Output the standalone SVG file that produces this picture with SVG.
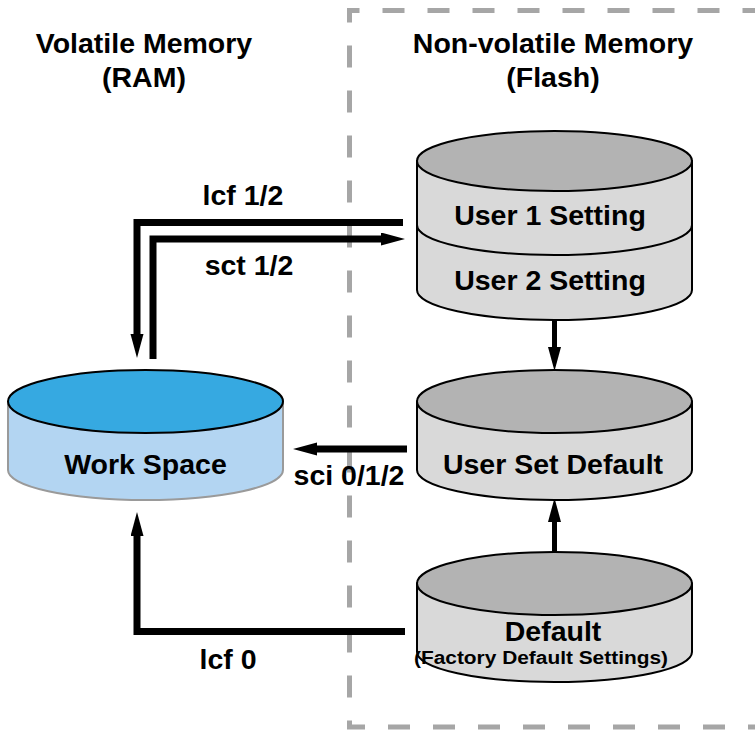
<svg xmlns="http://www.w3.org/2000/svg" width="755" height="732" viewBox="0 0 755 732">
<style>
  text { font-family: "Liberation Sans", Arial, sans-serif; font-weight: bold; fill: #000; text-anchor: middle; }
  .title { font-size: 28.5px; }
  .lbl { font-size: 28.5px; }
  .small { font-size: 18px; }
  .border { fill: none; stroke: #a6a6a6; stroke-width: 5; stroke-dasharray: 22 23; stroke-dashoffset: 10; }
  .conn { fill: none; stroke: #000; stroke-width: 7; }
  .conn2 { fill: none; stroke: #000; stroke-width: 5; }
  .fside { fill: #d9d9d9; stroke: #000; stroke-width: 2; }
  .ftop { fill: #b3b3b3; stroke: #000; stroke-width: 2; }
  .wside { fill: #b3d5f2; stroke: #9a9a9a; stroke-width: 2; }
  .wtop { fill: #36a9e1; stroke: #000; stroke-width: 2; }
  .line { fill: none; stroke: #000; stroke-width: 2; }
</style>
<defs>
  <marker id="ah" markerUnits="userSpaceOnUse" markerWidth="26" markerHeight="14" refX="0" refY="6.5" orient="auto">
    <path d="M0,0 L24,6.5 L0,13 Z" fill="#000"/>
  </marker>
</defs>

<path class="border" d="M760,727 L349.5,727 L349.5,10.5 L760,10.5"/>

<g id="titles">
  <text class="title" x="144" y="53">Volatile Memory</text>
  <text class="title" x="144" y="87">(RAM)</text>
  <text class="title" x="553" y="53">Non-volatile Memory</text>
  <text class="title" x="553" y="87">(Flash)</text>
</g>

<g id="connectors">
  <path class="conn" d="M403,222.5 L137,222.5 L137,334" marker-end="url(#ah)"/>
  <path class="conn" d="M153,359 L153,239 L381,239" marker-end="url(#ah)"/>
  <path class="conn" d="M407,449 L317,449" marker-end="url(#ah)"/>
  <path class="conn" d="M405,631.5 L137,631.5 L137,536" marker-end="url(#ah)"/>
  <path class="conn2" d="M554.5,320 L554.5,347" marker-end="url(#ah)"/>
  <path class="conn2" d="M554.5,552 L554.5,522" marker-end="url(#ah)"/>
  <text class="lbl" x="243" y="205">lcf 1/2</text>
  <text class="lbl" x="249" y="275">sct 1/2</text>
  <text class="lbl" x="349" y="485">sci 0/1/2</text>
  <text class="lbl" x="228" y="669">lcf 0</text>
</g>

<g id="work-space">
  <path class="wside" d="M8,401.5 L8,470 A137.5,30 0 0 0 283,470 L283,401.5 Z"/>
  <ellipse class="wtop" cx="145.5" cy="401.5" rx="137.5" ry="31.5"/>
  <text class="lbl" x="145.5" y="474">Work Space</text>
</g>

<g id="user-settings">
  <path class="fside" d="M417,161 L417,290 A137.5,30 0 0 0 692,290 L692,161 Z"/>
  <ellipse class="ftop" cx="554.5" cy="161" rx="137.5" ry="30"/>
  <path class="line" d="M417,225 A137.5,30 0 0 0 692,225"/>
  <text class="lbl" x="550" y="225">User 1 Setting</text>
  <text class="lbl" x="550" y="290">User 2 Setting</text>
</g>

<g id="user-set-default">
  <path class="fside" d="M417,401.5 L417,470 A137.5,30 0 0 0 692,470 L692,401.5 Z"/>
  <ellipse class="ftop" cx="554.5" cy="401.5" rx="137.5" ry="31.5"/>
  <text class="lbl" x="553" y="474">User Set Default</text>
</g>

<g id="default">
  <path class="fside" d="M417,583.5 L417,652 A137.5,30 0 0 0 692,652 L692,583.5 Z"/>
  <ellipse class="ftop" cx="554.5" cy="583.5" rx="137.5" ry="31.5"/>
  <text class="lbl" x="553" y="641">Default</text>
  <text class="small" x="541" y="664" textLength="254" lengthAdjust="spacingAndGlyphs">(Factory Default Settings)</text>
</g>
</svg>
